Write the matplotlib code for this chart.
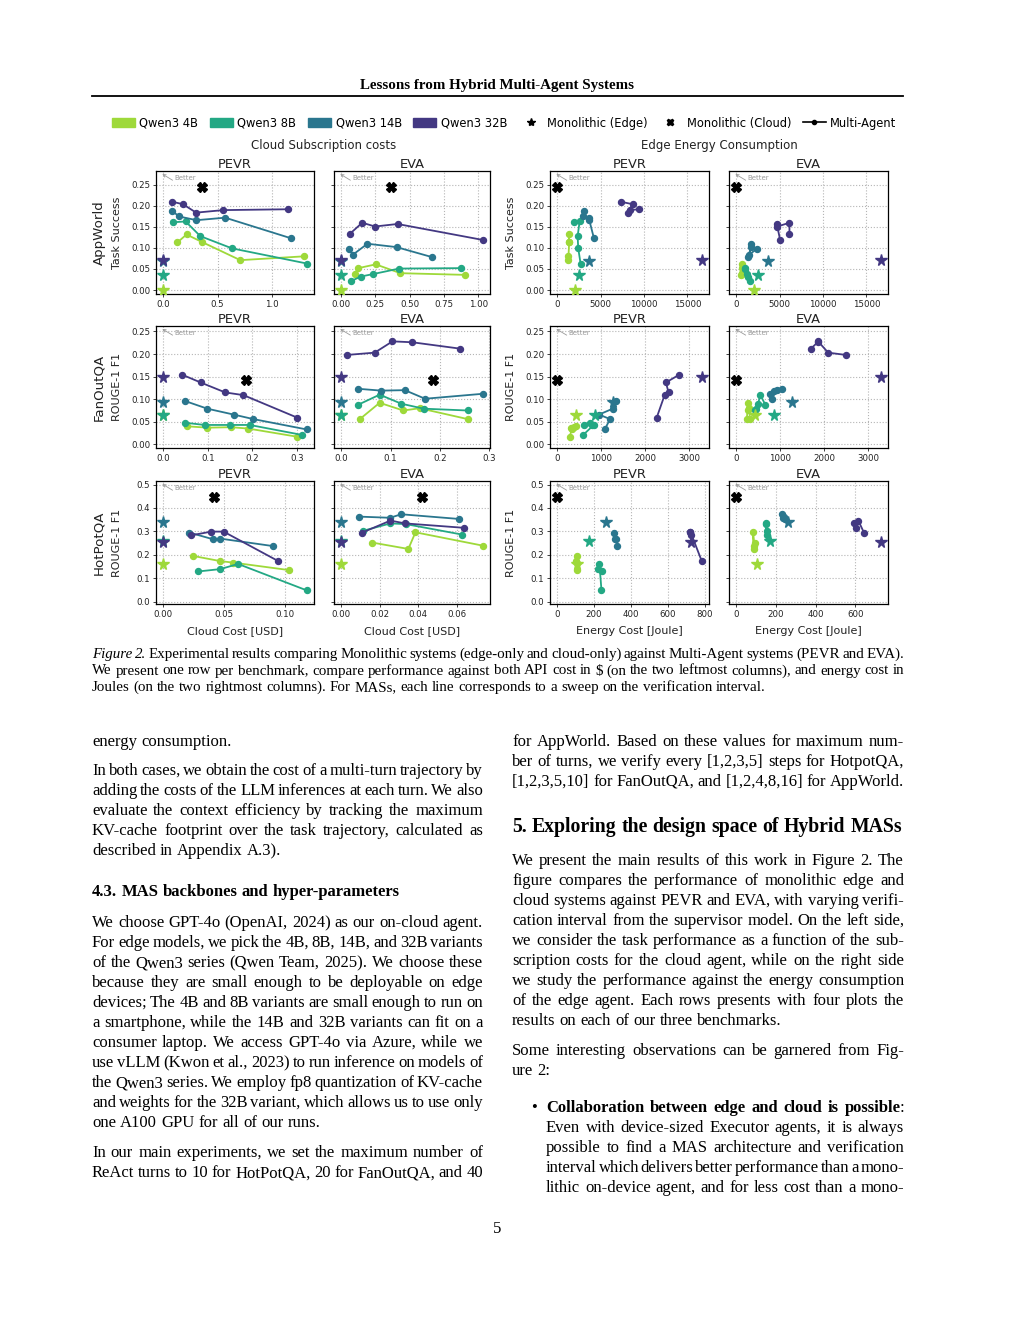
import matplotlib
matplotlib.use("Agg")
import matplotlib.pyplot as plt
from matplotlib.patches import Patch
from matplotlib.lines import Line2D

# model order everywhere: Qwen3 4B, 8B, 14B, 32B
models = ["Qwen3 4B", "Qwen3 8B", "Qwen3 14B", "Qwen3 32B"]
colors = ["#9ed93a", "#23a884", "#2a768e", "#433882"]

### APPWORLD ###
aw_pevr_cost = [[0.13, 0.215, 0.358, 0.709, 1.291],
                [0.088, 0.206, 0.342, 0.633, 1.321],
                [0.079, 0.145, 0.306, 0.57, 1.176],
                [0.082, 0.182, 0.303, 0.552, 1.145]]
aw_pevr_energy = [[1350, 1350, 1380, 1270, 1230],
                  [1960, 2580, 2350, 2420, 2690],
                  [3080, 2920, 3650, 3620, 4230],
                  [7300, 8690, 8120, 8350, 9380]]
aw_pevr_score = [[0.113, 0.132, 0.114, 0.071, 0.080],
                 [0.161, 0.163, 0.128, 0.099, 0.063],
                 [0.189, 0.175, 0.166, 0.172, 0.123],
                 [0.210, 0.204, 0.184, 0.190, 0.192]]
aw_eva_cost = [[0.10, 0.126, 0.252, 0.432, 0.903],
               [0.071, 0.143, 0.235, 0.423, 0.874],
               [0.057, 0.086, 0.192, 0.404, 0.665],
               [0.062, 0.154, 0.247, 0.411, 1.033]]
aw_eva_energy = [[610, 610, 650, 610, 500],
                 [1570, 1300, 1230, 1030, 1030],
                 [2380, 1500, 1720, 1720, 1380],
                 [6130, 6130, 4750, 4670, 5060]]
aw_eva_score = [[0.039, 0.052, 0.061, 0.040, 0.036],
                [0.021, 0.032, 0.038, 0.051, 0.052],
                [0.098, 0.084, 0.110, 0.102, 0.078],
                [0.133, 0.160, 0.151, 0.157, 0.119]]
aw_edge_score = [0.0, 0.036, 0.069, 0.071]
aw_edge_energy = [2040, 2500, 3650, 16650]
aw_cloud_cost, aw_cloud_score = 0.36, 0.244

### FANOUTQA ###
fo_pevr_cost = [[0.054, 0.099, 0.152, 0.191, 0.30],
                [0.048, 0.093, 0.149, 0.194, 0.311],
                [0.049, 0.099, 0.158, 0.202, 0.322],
                [0.043, 0.084, 0.139, 0.18, 0.301]]
fo_pevr_energy = [[435, 320, 380, 340, 280],
                  [740, 600, 780, 830, 590],
                  [1330, 1260, 950, 1200, 1080],
                  [2770, 2470, 2530, 2440, 2260]]
fo_pevr_score = [[0.040, 0.037, 0.038, 0.035, 0.017],
                 [0.048, 0.043, 0.043, 0.043, 0.021],
                 [0.096, 0.079, 0.066, 0.056, 0.033],
                 [0.154, 0.137, 0.115, 0.109, 0.059]]
fo_eva_cost = [[0.038, 0.078, 0.126, 0.159, 0.256],
               [0.035, 0.078, 0.122, 0.167, 0.256],
               [0.035, 0.081, 0.129, 0.170, 0.287],
               [0.0125, 0.068, 0.104, 0.144, 0.24]]
fo_eva_energy = [[240, 270, 260, 295, 310],
                 [660, 545, 500, 455, 425],
                 [1050, 850, 920, 810, 760],
                 [2490, 2090, 1860, 1850, 1700]]
fo_eva_score = [[0.056, 0.092, 0.075, 0.080, 0.056],
                [0.088, 0.110, 0.090, 0.079, 0.075],
                [0.123, 0.119, 0.120, 0.101, 0.112],
                [0.198, 0.203, 0.228, 0.226, 0.212]]
fo_edge_score = [0.065, 0.064, 0.093, 0.149]
fo_edge_energy = [420, 850, 1270, 3285]
fo_cloud_cost, fo_cloud_score = 0.185, 0.142

### HOTPOTQA ###
hp_pevr_cost = [[0.0247, 0.047, 0.057, 0.103],
                [0.029, 0.047, 0.0615, 0.118],
                [0.0214, 0.0412, 0.047, 0.0905],
                [0.0228, 0.0396, 0.0496, 0.0946]]
hp_pevr_energy = [[106, 104, 106, 106],
                  [245, 220, 229, 240],
                  [308, 313, 318, 326],
                  [724, 718, 722, 784]]
hp_pevr_score = [[0.195, 0.173, 0.167, 0.135],
                 [0.129, 0.139, 0.161, 0.048],
                 [0.295, 0.266, 0.269, 0.237],
                 [0.283, 0.299, 0.299, 0.173]]
hp_eva_cost = [[0.0163, 0.0349, 0.0386, 0.0736],
               [0.0112, 0.0256, 0.0336, 0.063],
               [0.0093, 0.0254, 0.0312, 0.0612],
               [0.011, 0.0256, 0.0332, 0.064]]
hp_eva_energy = [[95, 90, 85, 88],
                 [153, 148, 150, 155],
                 [240, 236, 232, 248],
                 [643, 615, 593, 603]]
hp_eva_score = [[0.252, 0.225, 0.296, 0.239],
                [0.302, 0.334, 0.331, 0.286],
                [0.363, 0.358, 0.373, 0.353],
                [0.295, 0.346, 0.334, 0.315]]
hp_edge_score = [0.162, 0.26, 0.338, 0.253]
hp_edge_energy = [107, 170, 262, 728]
hp_cloud_cost, hp_cloud_score = 0.042, 0.445


W, H = 1020, 1320
SERIF = "Liberation Serif"
fig = plt.figure(figsize=(W / 100, H / 100), dpi=100)
renderer = fig.canvas.get_renderer()


def fx(x):
    return x / W


def fy(y):
    return 1 - y / H


def ax_at(x0, x1, y0, y1):
    return fig.add_axes([fx(x0), fy(y1), (x1 - x0) / W, (y1 - y0) / H])


def draw(ax, xs, ys, star_x, star_y, cloud_x, cloud_y):
    for i in range(4):
        ax.plot(xs[i], ys[i], "-o", color=colors[i], ms=4.3, lw=1.3, zorder=3)
    for i in range(4):
        ax.plot(star_x[i], star_y[i], "*", color=colors[i], ms=8.5, zorder=4)
    ax.plot(cloud_x, cloud_y, "X", color="black", ms=6.5, zorder=4)
    ax.grid(True, ls=":", color="#b5b5b5", lw=0.8)
    ax.set_axisbelow(True)
    # "Better" hint in the top-left corner
    ax.annotate("", xy=(0.04, 0.975), xycoords="axes fraction",
                xytext=(0.105, 0.925), textcoords="axes fraction",
                arrowprops=dict(arrowstyle="->", color="#9a9a9a", lw=0.6,
                                shrinkA=0, shrinkB=0, mutation_scale=5))
    ax.text(0.115, 0.945, "Better", transform=ax.transAxes, fontsize=5,
            color="#9a9a9a", ha="left", va="center")
    ax.tick_params(labelsize=6.2, length=2.5, width=0.6, pad=1.5, colors="#222222")
    for s in ax.spines.values():
        s.set_linewidth(0.9)


cols = [(156, 314), (334, 490), (550, 709), (729, 888)]
rows = [(171, 294), (326, 448), (481, 604)]

bench = [
    ("AppWorld", "Task Success", (-0.0095, 0.283), [0, 0.05, 0.1, 0.15, 0.2, 0.25], "%.2f",
     [(aw_pevr_cost, aw_pevr_score), (aw_eva_cost, aw_eva_score),
      (aw_pevr_energy, aw_pevr_score), (aw_eva_energy, aw_eva_score)],
     aw_edge_score, aw_edge_energy, aw_cloud_cost, aw_cloud_score,
     [([0, 0.5, 1.0], "%.1f"), ([0, 0.25, 0.5, 0.75, 1.0], "%.2f"),
      ([0, 5000, 10000, 15000], "%d"), ([0, 5000, 10000, 15000], "%d")]),
    ("FanOutQA", "ROUGE-1 F1", (-0.008, 0.262), [0, 0.05, 0.1, 0.15, 0.2, 0.25], "%.2f",
     [(fo_pevr_cost, fo_pevr_score), (fo_eva_cost, fo_eva_score),
      (fo_pevr_energy, fo_pevr_score), (fo_eva_energy, fo_eva_score)],
     fo_edge_score, fo_edge_energy, fo_cloud_cost, fo_cloud_score,
     [([0, 0.1, 0.2, 0.3], "%.1f"), ([0, 0.1, 0.2, 0.3], "%.1f"),
      ([0, 1000, 2000, 3000], "%d"), ([0, 1000, 2000, 3000], "%d")]),
    ("HotPotQA", "ROUGE-1 F1", (-0.01, 0.515), [0, 0.1, 0.2, 0.3, 0.4, 0.5], "%.1f",
     [(hp_pevr_cost, hp_pevr_score), (hp_eva_cost, hp_eva_score),
      (hp_pevr_energy, hp_pevr_score), (hp_eva_energy, hp_eva_score)],
     hp_edge_score, hp_edge_energy, hp_cloud_cost, hp_cloud_score,
     [([0, 0.05, 0.1], "%.2f"), ([0, 0.02, 0.04, 0.06], "%.2f"),
      ([0, 200, 400, 600, 800], "%d"), ([0, 200, 400, 600], "%d")]),
]

for r, (name, ylab, ylim, yt, yfmt, series, e_score, e_energy, c_cost, c_score, xts) in enumerate(bench):
    y0, y1 = rows[r]
    for c in range(4):
        ax = ax_at(cols[c][0], cols[c][1], y0, y1)
        xs, ys = series[c]
        if c < 2:
            draw(ax, xs, ys, [0] * 4, e_score, c_cost, c_score)
        else:
            draw(ax, xs, ys, e_energy, e_score, 0, c_score)
        ax.set_ylim(*ylim)
        ax.set_yticks(yt)
        ax.set_yticklabels([yfmt % v for v in yt])
        ticks, fmt = xts[c]
        ax.set_xticks(ticks)
        ax.set_xticklabels([fmt % v for v in ticks])
        ax.set_title(["PEVR", "EVA"][c % 2], fontsize=9.4, pad=2.5, color="#222222")
        if c % 2 == 1:
            ax.tick_params(labelleft=False)
        else:
            ax.set_ylabel(ylab, fontsize=8, color="#222222")
            ax.yaxis.set_label_coords(-0.215, 0.5)
        if r == 2:
            ax.set_xlabel("Cloud Cost [USD]" if c < 2 else "Energy Cost [Joule]",
                          fontsize=8, color="#222222")
            ax.xaxis.set_label_coords(0.5, -0.18)
    fig.text(fx(99), fy((y0 + y1) / 2), name, rotation=90, ha="center", va="center",
             fontsize=9.6, color="#222222")

fig.text(fx(324), fy(146), "Cloud Subscription costs", ha="center", va="center",
         fontsize=8.5, color="#222222")
fig.text(fx(719), fy(146), "Edge Energy Consumption", ha="center", va="center",
         fontsize=8.5, color="#222222")

handles = [Patch(color=col) for col in colors]
handles += [Line2D([], [], ls="none", marker="*", color="black", ms=6),
            Line2D([], [], ls="none", marker="X", color="black", ms=5),
            Line2D([], [], color="black", marker="o", ms=3, lw=1.2)]
labels = models + ["Monolithic (Edge)", "Monolithic (Cloud)", "Multi-Agent"]
fig.legend(handles, labels, loc="center", bbox_to_anchor=(fx(504), fy(123)), ncol=7,
           frameon=False, fontsize=8.3, handlelength=2.0, handletextpad=0.4,
           columnspacing=1.0, borderaxespad=0)


### PAGE TEXT ###

def parse(tok):
    for mark, wt, st in (("**", "bold", "normal"), ("__", "normal", "italic")):
        if tok.startswith(mark):
            end = tok.index(mark, 2)
            segs = [(tok[2:end], wt, st)]
            if tok[end + 2:]:
                segs.append((tok[end + 2:], "normal", "normal"))
            return segs
    return [(tok, "normal", "normal")]


def text_line(x0, x1, y, line, size=12, justify=True, weight="normal"):
    items = []
    for tok in line.split(" "):
        segs = []
        parts = parse(tok)
        for k, (s, wt, st) in enumerate(parts):
            t = fig.text(0, 0, s, fontsize=size, family=SERIF, va="baseline", ha="left",
                         weight=weight if wt == "normal" else wt, style=st, color="black")
            w = t.get_window_extent(renderer).width
            if k < len(parts) - 1:
                w -= 1.5
            segs.append((t, w))
        items.append(segs)
    widths = [sum(w for _, w in segs) for segs in items]
    gap = size * 100 / 72 * 0.25
    if justify and len(items) > 1:
        gap = (x1 - x0 - sum(widths)) / (len(items) - 1)
    x = x0
    for segs, ww in zip(items, widths):
        xx = x
        for t, w in segs:
            t.set_position((fx(xx), fy(y + 5)))
            xx += w
        x += ww + gap


def paragraph(x0, x1, y, lines, step=20, size=12, last=False):
    for i, l in enumerate(lines):
        text_line(x0, x1, y + i * step, l, size=size,
                  justify=(last or i < len(lines) - 1))


fig.text(fx(497), fy(89), "Lessons from Hybrid Multi-Agent Systems", ha="center",
         va="baseline", weight="bold", fontsize=10.8, family=SERIF)
fig.add_artist(Line2D([fx(92), fx(903)], [fy(96), fy(96)], color="black", lw=1.3))

paragraph(92, 904, 653, [
    "__Figure__ __2.__ Experimental results comparing Monolithic systems (edge-only and cloud-only) against Multi-Agent systems (PEVR and EVA).",
    "We present one row per benchmark, compare performance against both API cost in $ (on the two leftmost columns), and energy cost in",
    "Joules (on the two rightmost columns). For MASs, each line corresponds to a sweep on the verification interval.",
], step=16.5, size=10.8)

L0, L1 = 92, 483
R0, R1 = 512, 904
paragraph(L0, L1, 741, ["energy consumption."])
paragraph(L0, L1, 770, [
    "In both cases, we obtain the cost of a multi-turn trajectory by",
    "adding the costs of the LLM inferences at each turn. We also",
    "evaluate the context efficiency by tracking the maximum",
    "KV-cache footprint over the task trajectory, calculated as",
    "described in Appendix A.3).",
])
text_line(L0, L1, 891, "4.3. MAS backbones and hyper-parameters", justify=False, weight="bold")
paragraph(L0, L1, 922, [
    "We choose GPT-4o (OpenAI, 2024) as our on-cloud agent.",
    "For edge models, we pick the 4B, 8B, 14B, and 32B variants",
    "of the Qwen3 series (Qwen Team, 2025). We choose these",
    "because they are small enough to be deployable on edge",
    "devices; The 4B and 8B variants are small enough to run on",
    "a smartphone, while the 14B and 32B variants can fit on a",
    "consumer laptop. We access GPT-4o via Azure, while we",
    "use vLLM (Kwon et al., 2023) to run inference on models of",
    "the Qwen3 series. We employ fp8 quantization of KV-cache",
    "and weights for the 32B variant, which allows us to use only",
    "one A100 GPU for all of our runs.",
])
paragraph(L0, L1, 1152, [
    "In our main experiments, we set the maximum number of",
    "ReAct turns to 10 for HotPotQA, 20 for FanOutQA, and 40",
], last=True)

paragraph(R0, R1, 741, [
    "for AppWorld. Based on these values for maximum num-",
    "ber of turns, we verify every [1,2,3,5] steps for HotpotQA,",
    "[1,2,3,5,10] for FanOutQA, and [1,2,4,8,16] for AppWorld.",
], last=True)
text_line(R0, R1, 827, "5. Exploring the design space of Hybrid MASs", size=14.2,
          justify=False, weight="bold")
paragraph(R0, R1, 860, [
    "We present the main results of this work in Figure 2. The",
    "figure compares the performance of monolithic edge and",
    "cloud systems against PEVR and EVA, with varying verifi-",
    "cation interval from the supervisor model. On the left side,",
    "we consider the task performance as a function of the sub-",
    "scription costs for the cloud agent, while on the right side",
    "we study the performance against the energy consumption",
    "of the edge agent. Each rows presents with four plots the",
    "results on each of our three benchmarks.",
])
paragraph(R0, R1, 1050, [
    "Some interesting observations can be garnered from Fig-",
    "ure 2:",
])
fig.text(fx(534), fy(1112), "\u2022", fontsize=12, family=SERIF, va="baseline", ha="center")
paragraph(546, R1, 1107, [
    "**Collaboration** **between** **edge** **and** **cloud** **is** **possible**:",
    "Even with device-sized Executor agents, it is always",
    "possible to find a MAS architecture and verification",
    "interval which delivers better performance than a mono-",
    "lithic on-device agent, and for less cost than a mono-",
], last=True)

fig.text(fx(497), fy(1233), "5", fontsize=12, family=SERIF, va="baseline", ha="center")

fig.savefig("out.png", dpi=100)
